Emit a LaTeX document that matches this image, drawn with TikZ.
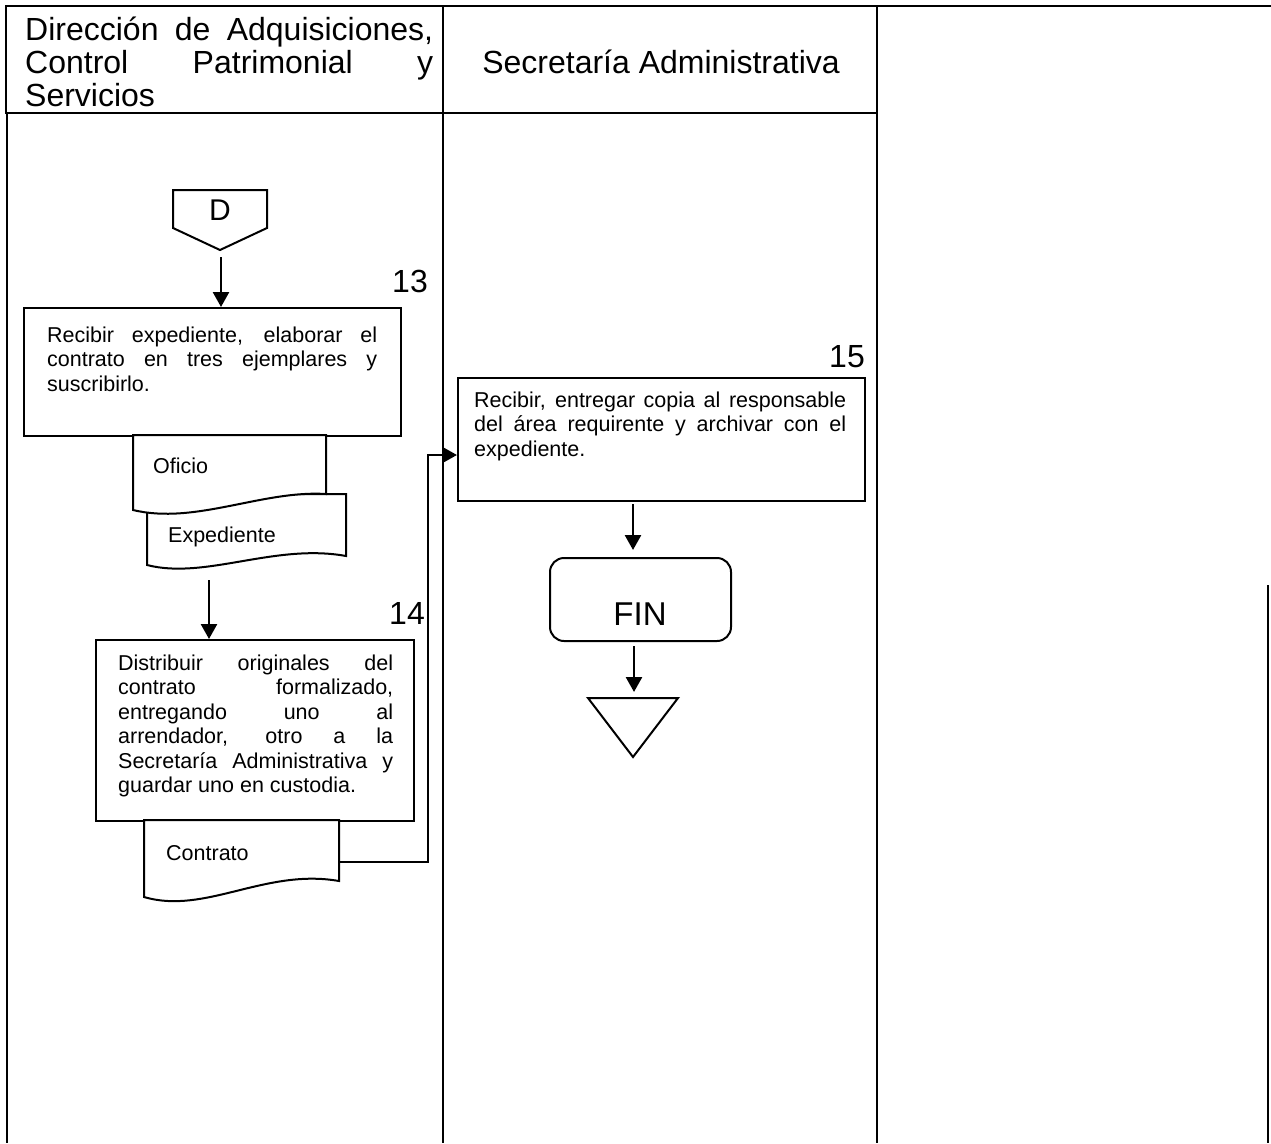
\documentclass[tikz,border=0pt]{standalone}
\usepackage{fontspec}
\setmainfont{Liberation Sans}
\usetikzlibrary{arrows.meta,calc}
\hyphenpenalty=10000
\exhyphenpenalty=10000
\tolerance=10000
\hbadness=10000
\begin{document}
\begin{tikzpicture}[x=1pt,y=-1pt,
  hdrline/.style={line width=2.6pt},
  laneline/.style={line width=1.6pt},
  stepbox/.style={draw, line width=2pt, rectangle, inner sep=0pt, anchor=north west},
  body/.style={inner sep=0pt, anchor=base west, align=justify, font=\fontsize{21.5}{24.5}\selectfont},
  doclabel/.style={inner sep=0pt, anchor=base west, font=\fontsize{21.5}{24.5}\selectfont},
  stepnum/.style={inner sep=0pt, anchor=base east, font=\fontsize{32}{34}\selectfont},
  docshape/.style={draw, line width=2pt, fill=white, line join=miter},
  arr/.style={line width=2.6pt, -{Triangle[length=15pt,width=16pt]}},
]
\useasboundingbox (0,0) rectangle (1271,1143);

% header row and swimlanes
\draw[hdrline] (6,6) -- (1271,6);
\draw[hdrline] (6,6) rectangle (443,113);
\draw[hdrline] (443,6) rectangle (877,113);
\draw[laneline] (7,113) -- (7,1143);
\draw[laneline] (443,113) -- (443,1143);
\draw[laneline] (877,113) -- (877,1143);
\draw[laneline] (1268,585) -- (1268,1143);

\node[inner sep=0pt, anchor=base west, align=justify, text width=408pt,
      font=\fontsize{32}{33}\selectfont] (h1) at (25,40)
  {Dirección de Adquisiciones,\linebreak Control Patrimonial y\linebreak Servicios};
\node[inner sep=0pt, anchor=base, font=\fontsize{32}{33}\selectfont] (h2) at (661,73)
  {Secretaría Administrativa};

% off-page connector D
\draw[docshape] (173,190) -- (267,190) -- (267,228) -- (220,250) -- (173,228) -- cycle;
\coordinate (dtip) at (221,257);
\node[inner sep=0pt, anchor=base, font=\fontsize{30}{32}\selectfont] (dlbl) at (220,220) {D};

% step 13
\node[stepnum] (n13) at (428,292) {13};
\node[stepbox, minimum width=377pt, minimum height=128pt] (b13) at (23,307) {};
\node[body, text width=330pt] (t13) at (47,342)
  {Recibir expediente, elaborar el\linebreak contrato en tres ejemplares y\linebreak suscribirlo.};

% documents Oficio / Expediente
\draw[docshape] (147,494) -- (346,494) -- (346,556)
  .. controls (275,543) and (205,580) .. (147,565) -- cycle;
\draw[docshape] (133,435) -- (326,435) -- (326,494)
  .. controls (262,490) and (195,525) .. (133,510) -- cycle;
\node[doclabel] (ofi) at (153,473) {Oficio};
\node[doclabel] (exp) at (168,542) {Expediente};
\coordinate (expbot) at (209,580);

% step 14
\node[stepnum] (n14) at (425,624) {14};
\node[stepbox, minimum width=318pt, minimum height=181pt] (b14) at (95,639) {};
\node[body, text width=275pt] (t14) at (118,670)
  {Distribuir originales del\linebreak contrato formalizado,\linebreak entregando uno al\linebreak arrendador, otro a la\linebreak Secretaría Administrativa y\linebreak guardar uno en custodia.};

% document Contrato
\draw[docshape] (144,820) -- (339,820) -- (339,881)
  .. controls (265,868) and (205,915) .. (144,897) -- cycle;
\node[doclabel] (con) at (166,860) {Contrato};
\coordinate (conR) at (339,862);

% step 15
\node[stepnum] (n15) at (865,367) {15};
\node[stepbox, minimum width=407pt, minimum height=123pt] (b15) at (457,377) {};
\node[body, text width=372pt] (t15) at (474,407)
  {Recibir, entregar copia al responsable\linebreak del área requirente y archivar con el\linebreak expediente.};
\coordinate (b15in) at (457,455);
\coordinate (b15out) at (633,504);

% end
\node[draw, line width=2pt, rounded corners=14pt, inner sep=0pt, anchor=north west,
      minimum width=181pt, minimum height=83pt] (fin) at (549,557) {};
\node[inner sep=0pt, anchor=base, font=\fontsize{33}{35}\selectfont] (fintxt) at (640,625) {FIN};
\coordinate (finin) at (633,550);
\coordinate (finout) at (634,646);
\draw[line width=2pt, line join=miter] (588,698) -- (678,698) -- (633,757) -- cycle;
\coordinate (tritop) at (634,692);

% connectors
\draw[arr] (dtip) -- (dtip |- b13.north);
\draw[arr] (expbot) -- (expbot |- b14.north);
\draw[arr, line join=miter] (conR) -- ++(89,0) |- (b15in);
\draw[arr] (b15out) -- (finin);
\draw[arr] (finout) -- (tritop);
\end{tikzpicture}
\end{document}
